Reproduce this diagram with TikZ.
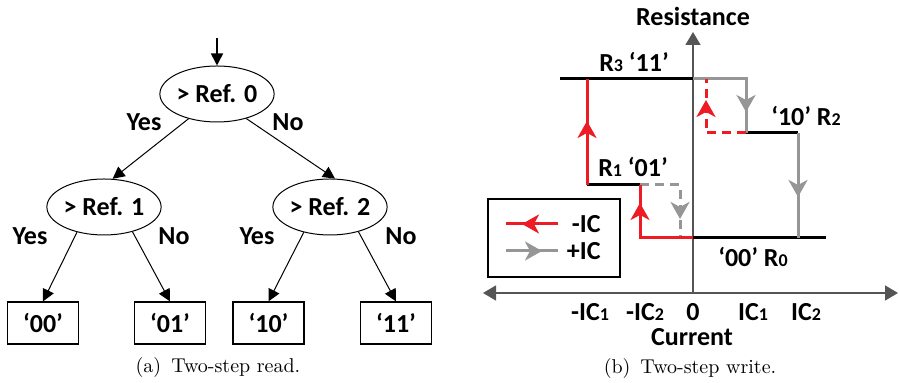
\documentclass[tikz,border=0pt]{standalone}
\usepackage{fontspec}
\newfontfamily\carl{Carlito}
\usetikzlibrary{arrows.meta,shapes.geometric,decorations.markings}
\definecolor{myred}{RGB}{237,28,36}
\definecolor{mygray}{RGB}{150,150,150}
\definecolor{axisgray}{RGB}{85,85,85}
\newcommand{\lsub}[1]{{\fontsize{9}{9}\selectfont #1}}
\begin{document}
\begin{tikzpicture}[x=0.5pt,y=-0.5pt,
  lbl/.style={font=\carl\bfseries\fontsize{13}{15}\selectfont, inner sep=0pt},
  captxt/.style={font=\fontsize{10}{12}\selectfont, inner sep=0pt},
  ell/.style={ellipse, draw, line width=0.5pt, minimum width=57pt, minimum height=28pt, inner sep=0pt, font=\carl\bfseries\fontsize{13}{15}\selectfont},
  leaf/.style={rectangle, draw, line width=0.6pt, minimum width=35.5pt, minimum height=21pt, inner sep=0pt, font=\carl\bfseries\fontsize{13}{15}\selectfont},
  tarr/.style={-{Triangle[length=6pt,width=6pt]}, line width=0.5pt},
  axarr/.style={{Triangle[length=6.5pt,width=7.5pt]}-{Triangle[length=6.5pt,width=7.5pt]}, line width=0.75pt, draw=axisgray},
  level/.style={draw=black, line width=1.5pt},
  redln/.style={draw=myred, line width=1.5pt, line join=miter},
  grayln/.style={draw=mygray, line width=1.5pt, line join=miter},
  dsh/.style={dash pattern=on 4.5pt off 3pt},
  marr/.style={postaction=decorate, decoration={markings, mark=at position #1 with {\arrow{Stealth[length=8.5pt,width=9.5pt,inset=2.5pt]}}}}
]
\useasboundingbox (0,0) rectangle (899,383);

% ---------------- (a) tree ----------------
\coordinate (top) at (217,38);
\node[ell] (r0) at (217,94) {> Ref. 0};
\node[ell] (r1) at (104,207) {> Ref. 1};
\node[ell] (r2) at (330,207) {> Ref. 2};
\node[leaf] (b00) at (43,323) {‘00’};
\node[leaf] (b01) at (170,323) {‘01’};
\node[leaf] (b10) at (268.5,323) {‘10’};
\node[leaf] (b11) at (396,323) {‘11’};

\draw[tarr, line width=0.8pt] (top) -- (r0.north);
\draw[tarr] (r0.221) -- (r1.73);
\draw[tarr] (r0.-40) -- (r2.80);
\draw[tarr] (r1.223) -- (b00.north);
\draw[tarr] (r1.-41) -- (b01.north);
\draw[tarr] (r2.224) -- (b10.north);
\draw[tarr] (r2.-41) -- (b11.north);

\node[lbl] (y0) at (144,122) {Yes};
\node[lbl] (n0) at (288,122) {No};
\node[lbl] (y1) at (30,236) {Yes};
\node[lbl] (n1) at (174,236) {No};
\node[lbl] (y2) at (257,236) {Yes};
\node[lbl] (n2) at (401,236) {No};

\node[captxt] (capa) at (218,368) {(a)\enspace Two-step read.};

% ---------------- (b) write ----------------
\coordinate (ox) at (693,293);
\coordinate (oy) at (693,32);
\coordinate (hl) at (483,293);
\coordinate (hr) at (898,293);
\draw[axarr] (hl) -- (hr);
\draw[-{Triangle[length=6.5pt,width=7.5pt]}, line width=0.75pt, draw=axisgray] (ox) -- (oy);

\node[lbl] (res) at (693,16) {Resistance};
\node[lbl] (cur) at (692,337) {Current};

% resistance levels
\draw[level] (560,79) -- (693,79);
\draw[level] (587,185) -- (640,185);
\draw[level] (746,133) -- (798,133);
\draw[level] (693,238) -- (826,238);

% gray (+IC) transitions
\draw[grayln, marr=43pt] (693,79) -- (746,79) -- (746,133);
\draw[grayln, marr=32pt] (798,133) -- (798,238);
\draw[grayln, dsh, marr=37pt] (640,185) -- (680,185) -- (680,238);

% red (-IC) transitions
\draw[redln, marr=44pt] (693,238) -- (640,238) -- (640,185);
\draw[redln, marr=32pt] (587,185) -- (587,79);
\draw[redln, dsh, marr=36.5pt] (746,133) -- (706,133) -- (706,79);

% level labels
\node[lbl] (l3) at (634,62) {R\lsub{3} ‘11’};
\node[lbl] (l2) at (806,116) {‘10’ R\lsub{2}};
\node[lbl] (l1) at (633,167) {R\lsub{1} ‘01’};
\node[lbl] (l0) at (753,257) {‘00’ R\lsub{0}};

% tick labels
\node[lbl] (t1) at (590,312) {-IC\lsub{1}};
\node[lbl] (t2) at (645,312) {-IC\lsub{2}};
\node[lbl] (t0) at (693,312) {0};
\node[lbl] (t3) at (753,312) {IC\lsub{1}};
\node[lbl] (t4) at (806,312) {IC\lsub{2}};

% legend
\node[draw, line width=0.6pt, minimum width=66pt, minimum height=39pt, inner sep=0pt] (leg) at (554,238) {};
\coordinate (la1) at (558,224);
\coordinate (la2) at (506,224);
\coordinate (lb1) at (506,251);
\coordinate (lb2) at (558,251);
\draw[redln, marr=18pt] (la1) -- (la2);
\draw[grayln, marr=18pt] (lb1) -- (lb2);
\node[lbl, anchor=east] (lm) at (601,224) {-IC};
\node[lbl, anchor=east] (lp) at (601,251) {+IC};

\node[captxt] (capb) at (690,369) {(b)\enspace Two-step write.};
\end{tikzpicture}
\end{document}
